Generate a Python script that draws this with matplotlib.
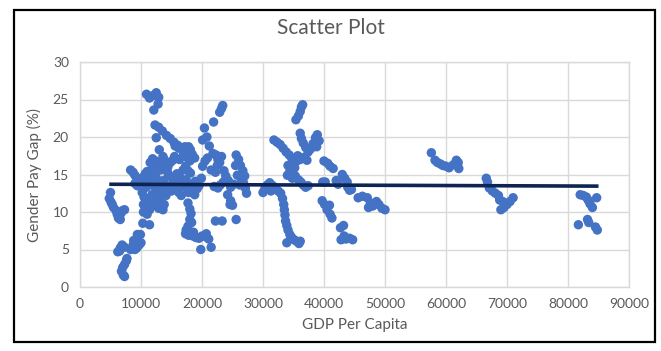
import matplotlib
matplotlib.use("Agg")
import matplotlib.pyplot as plt
from matplotlib.patches import Rectangle

plt.rcParams['font.family'] = ['Lato', 'DejaVu Sans']

# GDP per capita (x) and gender pay gap in % (y), grouped by country clusters
gdp_low = [5000, 4800, 5100, 5300, 5500, 5900, 6100, 6300, 6600, 7000, 7300, 6700,
           6200, 6600, 6900, 7300, 6500, 7600, 7300, 7000, 6800, 7100, 7300, 7700,
           8300, 8700, 9000, 8800, 9400, 9900, 9700, 10000, 9300, 10300, 11400]
gap_low = [12.6, 11.8, 11.3, 11.0, 10.6, 10.2, 9.7, 9.2, 9.0, 10.2, 10.3, 9.8,
           4.7, 5.2, 5.6, 5.3, 4.8, 3.5, 3.0, 2.6, 2.1, 1.6, 1.4, 3.8,
           5.0, 5.6, 5.0, 6.2, 7.0, 7.0, 5.6, 5.9, 5.2, 8.5, 8.3]

gdp_mid = [8300, 8700, 9000, 9300, 9600, 9000, 9400, 10000, 10300, 10700, 11000, 11300,
           10600, 10900, 10200, 10500, 10800, 10400, 10900, 10400, 11000, 11400, 11700,
           11300, 11800, 12200, 12500, 12900, 13300, 13600, 13800, 12700, 13100, 12300,
           11900, 12600, 13000, 13400, 13800, 14200, 13700, 12400, 11900, 11500, 11900,
           12400, 12800, 13200, 13600, 14000, 14400, 14800, 15200, 13800, 14400, 14900,
           15300, 15700, 15900, 16200, 16600, 15000, 14600, 14100, 13100,
           10900, 11400, 11900, 12500, 12900, 12800, 12100,
           12300, 12900, 13500, 14200, 14800, 15400, 16000, 16600, 17200, 17800, 18100,
           18400, 18800, 12500, 13000, 13600, 15600, 16200, 17000, 17500, 18000,
           15900, 16400, 16900, 17300, 17700, 18100, 17400, 16800, 17300, 17800, 18400,
           18800, 19200, 19500, 18900, 18200, 16300, 15500]
gap_mid = [15.6, 15.3, 14.9, 14.5, 14.2, 13.8, 13.5, 13.9, 14.6, 15.1, 15.4, 15.0,
           14.2, 13.3, 12.6, 12.0, 11.5, 11.0, 10.6, 10.0, 9.7, 10.3, 11.0,
           11.8, 12.3, 11.5, 10.8, 10.5, 10.8, 10.3, 11.0, 12.0, 12.6, 13.3,
           14.0, 14.4, 13.8, 13.3, 12.8, 13.5, 14.2, 15.2, 15.8, 16.6, 17.1,
           16.8, 16.2, 15.6, 15.8, 16.3, 16.0, 16.6, 16.9, 17.0, 15.2, 14.7,
           14.1, 13.6, 13.0, 12.6, 12.2, 12.8, 13.2, 12.2, 11.6,
           25.7, 25.2, 25.5, 25.9, 25.3, 24.4, 23.6,
           21.6, 21.3, 20.8, 20.2, 19.8, 19.3, 18.9, 18.6, 18.7, 18.7, 18.3,
           17.7, 17.2, 19.9, 18.3, 17.4, 18.8, 18.5, 17.8, 17.3, 16.8,
           15.1, 14.6, 15.6, 16.1, 15.5, 15.2, 14.3, 13.8, 13.3, 12.6, 12.8,
           12.3, 13.1, 13.5, 14.1, 13.6, 17.0, 17.4]

gdp_20k = [17700, 18000, 18200, 18000, 18300, 17700, 17400, 17300, 17800, 18500, 19000,
           19500, 20000, 20700, 21100, 20600, 21500, 19800, 18600,
           19900, 20100, 20500, 20900, 20100, 20400, 20800, 21200, 21900, 21500, 22200,
           22900, 23200, 23400, 22300, 22600, 22900, 23200, 22500, 21800, 22000, 22600,
           23000, 23500, 23900, 24300, 24700, 24200, 24700, 25000, 24600, 25600, 22200,
           23300, 23600, 25200, 25600, 26000, 26300, 26700, 27000, 26800, 27100, 27300,
           26500, 25800, 26200, 25500]
gap_20k = [11.2, 10.4, 9.8, 9.0, 8.6, 8.1, 7.6, 7.1, 6.9, 6.8, 6.6,
           6.5, 6.8, 7.1, 6.4, 6.7, 5.3, 5.0, 7.3,
           14.5, 16.1, 16.8, 17.2, 19.6, 21.2, 20.0, 18.8, 22.0, 15.6, 15.3,
           23.3, 23.8, 24.2, 17.6, 17.0, 16.6, 17.4, 16.2, 17.8, 13.4, 13.2,
           13.6, 14.0, 14.8, 14.2, 13.3, 12.3, 11.5, 10.9, 11.0, 9.0, 8.8,
           8.8, 15.5, 13.7, 17.6, 17.0, 16.2, 15.5, 14.8, 13.9, 13.2, 12.5,
           14.3, 14.9, 13.6, 16.2]

gdp_35k = [30000, 30300, 30700, 31100, 31600, 32000, 32500, 32900, 31300,
           33200, 33400, 33500, 33600, 33700, 33900, 34100, 34400, 34700, 35100, 35500,
           35900, 36100, 33900, 34600,
           31800, 32300, 32800, 33300, 33800, 34300, 34700, 34900, 35200, 35500, 35700,
           36100, 34100, 34400, 34000, 34800, 35300, 35800, 36200, 36600, 37000, 37400,
           35400, 35800, 36100, 36300, 36500,
           36100, 36300, 36600, 37000, 37400, 37800, 38200, 38600, 38900, 39200, 38800,
           36800, 37200,
           40000, 40600, 41000, 41500, 42000, 42300, 39800, 40200,
           39700, 40100, 40500, 41000, 40900, 41300,
           43000, 43400, 43800, 43900, 44200, 44500,
           42700, 43200, 42800, 43300, 43600, 44200, 44700,
           45600, 46300, 47100, 47600, 48000, 48600, 49000, 49500, 50000, 47300]
gap_35k = [12.6, 13.1, 13.6, 13.9, 13.5, 13.2, 12.8, 12.5, 12.8,
           11.8, 11.0, 10.3, 9.6, 8.8, 8.2, 7.6, 7.0, 6.6, 6.3, 6.1,
           5.8, 6.1, 5.9, 6.6,
           19.6, 19.3, 19.0, 18.5, 18.0, 17.6, 17.2, 16.5, 15.9, 16.8, 17.5,
           17.0, 16.2, 15.4, 14.9, 14.5, 14.8, 14.3, 14.0, 13.6, 13.3, 13.5,
           22.3, 22.8, 23.4, 24.0, 24.3,
           20.5, 19.8, 19.2, 18.6, 18.0, 18.4, 19.1, 19.9, 20.3, 19.5, 18.7,
           17.3, 16.9,
           16.8, 16.5, 16.1, 15.8, 14.2, 13.7, 14.0, 14.0,
           11.5, 11.0, 10.3, 9.7, 10.9, 9.2,
           15.0, 14.5, 14.0, 13.3, 12.9, 13.0,
           7.9, 8.2, 6.3, 6.8, 6.4, 6.5, 6.3,
           11.9, 12.1, 11.9, 11.2, 10.8, 11.4, 11.0, 10.5, 10.3, 10.6]

gdp_high = [57600, 58200, 58600, 59100, 59500, 60000, 60500, 61200, 61700, 62000, 62100,
            66600, 66800, 67100, 67600, 68100, 68600, 68800, 69300, 69000, 69500, 70000,
            70500, 71000,
            81700, 82000, 82500, 83000, 83300, 83600, 84000, 84700, 83200, 83400, 84800,
            84500]
gap_high = [17.9, 16.9, 16.6, 16.4, 16.2, 16.1, 15.9, 16.3, 16.9, 16.6, 15.8,
            14.5, 14.0, 13.2, 12.8, 12.5, 12.2, 11.6, 11.4, 10.3, 10.6, 11.0,
            11.4, 11.9,
            8.3, 12.3, 12.2, 12.0, 11.6, 11.1, 10.6, 11.9, 9.0, 8.6, 7.6,
            8.0]

# Linear trendline end points
trend_x = [4800, 85000]
trend_y = [13.70, 13.45]

x_ticks = [0, 10000, 20000, 30000, 40000, 50000, 60000, 70000, 80000, 90000]
y_ticks = [0, 5, 10, 15, 20, 25, 30]

gdp = gdp_low + gdp_mid + gdp_20k + gdp_35k + gdp_high
gap = gap_low + gap_mid + gap_20k + gap_35k + gap_high

text_color = '#595959'
grid_color = '#d9d9d9'

fig = plt.figure(figsize=(6.61, 3.51), dpi=100)
fig.patch.set_facecolor('white')
ax = fig.add_axes([80 / 661, 1 - 287 / 351, 549 / 661, 225 / 351])

ax.scatter(gdp, gap, s=46, color='#4472C4', edgecolors='none', zorder=3)
ax.plot(trend_x, trend_y, color='#0e2452', linewidth=2.6, zorder=4,
        solid_capstyle='butt')

ax.set_xlim(0, 90000)
ax.set_ylim(0, 30)
ax.set_xticks(x_ticks)
ax.set_yticks(y_ticks)
ax.set_xticklabels([str(v) for v in x_ticks])
ax.set_yticklabels([str(v) for v in y_ticks])
ax.grid(True, color=grid_color, linewidth=1.0, zorder=0)
ax.set_axisbelow(True)
for sp in ax.spines.values():
    sp.set_color(grid_color)
    sp.set_linewidth(1.0)
ax.tick_params(length=0, colors=text_color, labelsize=10, pad=8)

ax.set_xlabel('GDP Per Capita', color=text_color, fontsize=11, labelpad=6)
ax.set_ylabel('Gender Pay Gap (%)', color=text_color, fontsize=11, labelpad=8)
fig.text(0.5, 1 - 28 / 351, 'Scatter Plot', ha='center', va='center',
         color=text_color, fontsize=15)

# Outer chart frame
fig.patches.append(Rectangle((14 / 661, 9 / 351), (655 - 14) / 661, (341 - 9) / 351,
                             transform=fig.transFigure, fill=False,
                             edgecolor='black', linewidth=1.6))

fig.savefig('out.png', dpi=100)
